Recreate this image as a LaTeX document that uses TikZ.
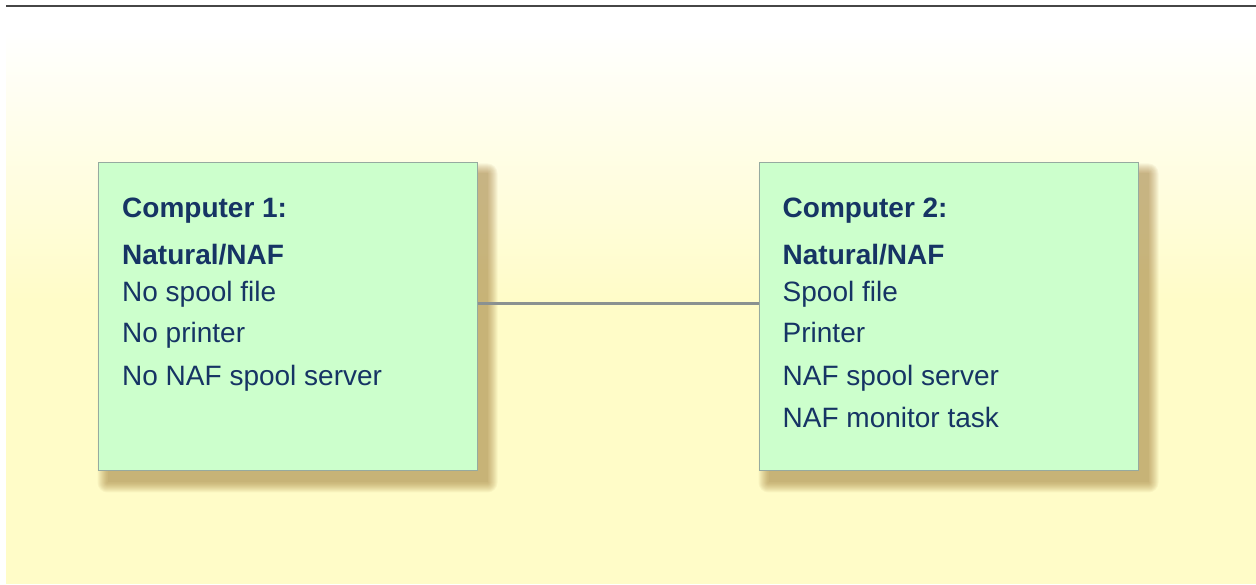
\documentclass[tikz,border=0pt]{standalone}
\usepackage{fontspec}
\setmainfont{Liberation Sans}

\definecolor{boxgreen}{RGB}{204,255,204}
\definecolor{boxedge}{RGB}{150,170,160}
\definecolor{textblue}{RGB}{22,52,100}
\definecolor{bgyellow}{RGB}{255,252,200}
\definecolor{linkgray}{RGB}{138,145,145}
\definecolor{rulegray}{RGB}{70,70,70}
\definecolor{shadowbrown}{RGB}{150,110,40}

\pgfdeclarelayer{back}
\pgfdeclarelayer{shade}
\pgfsetlayers{back,shade,main}

\tikzset{
	computer/.style={draw=boxedge, line width=1pt, fill=boxgreen, minimum width=379pt, minimum height=308pt, inner sep=0pt},
	shadowstep/.style={fill=shadowbrown, opacity=0.06},
	entry/.style={anchor=base west, inner sep=0pt, text=textblue, font=\fontsize{28}{32}\selectfont},
	heading/.style={entry, font=\fontsize{28}{32}\selectfont\bfseries}
}

\begin{document}
\begin{tikzpicture}[x=1pt, y=1pt]
			\useasboundingbox (0, 0) rectangle (1256, 584);
			% background
			\begin{pgfonlayer}{back}
				\fill[white] (0, 0) rectangle (1256, 584);
				\fill[bgyellow] (6, 0) rectangle (1256, 285);
				\shade[top color=white, bottom color=bgyellow] (6, 284) rectangle (1256, 554);
				\draw[rulegray, line width=2pt] (6, 578.3) -- (1256, 578.3);
			\end{pgfonlayer}
			% computers
			\node[computer] (C1)at(287.5, 267) {};
			\node[computer] (C2)at(948.5, 267) {};
			\begin{pgfonlayer}{shade}
				\foreach \comp in {C1, C2}
					\foreach \e in {0, ..., 10}
						\fill[shadowstep, rounded corners=\e pt] ([shift={(10-\e, -11-\e)}]\comp.south west) rectangle ([shift={(10+\e, -11+\e)}]\comp.north east);
			\end{pgfonlayer}
			\draw[linkgray, line width=3pt] ([yshift=13pt]C1.east) -- ([yshift=13pt]C2.west);
			% computer 1
			\node[heading] (C1T)at([shift={(24.5, -55)}]C1.north west) {Computer 1:};
			\node[heading] (C1N)at([shift={(24.5, -102)}]C1.north west) {Natural/NAF};
			\node[entry] (C1A)at([shift={(24.5, -139)}]C1.north west) {No spool file};
			\node[entry] (C1B)at([shift={(24.5, -180)}]C1.north west) {No printer};
			\node[entry] (C1C)at([shift={(24.5, -223)}]C1.north west) {No NAF spool server};
			% computer 2
			\node[heading] (C2T)at([shift={(24, -55)}]C2.north west) {Computer 2:};
			\node[heading] (C2N)at([shift={(24, -102)}]C2.north west) {Natural/NAF};
			\node[entry] (C2A)at([shift={(24, -139)}]C2.north west) {Spool file};
			\node[entry] (C2B)at([shift={(24, -180)}]C2.north west) {Printer};
			\node[entry] (C2C)at([shift={(24, -223)}]C2.north west) {NAF spool server};
			\node[entry] (C2D)at([shift={(24, -265)}]C2.north west) {NAF monitor task};
		\end{tikzpicture}
\end{document}
